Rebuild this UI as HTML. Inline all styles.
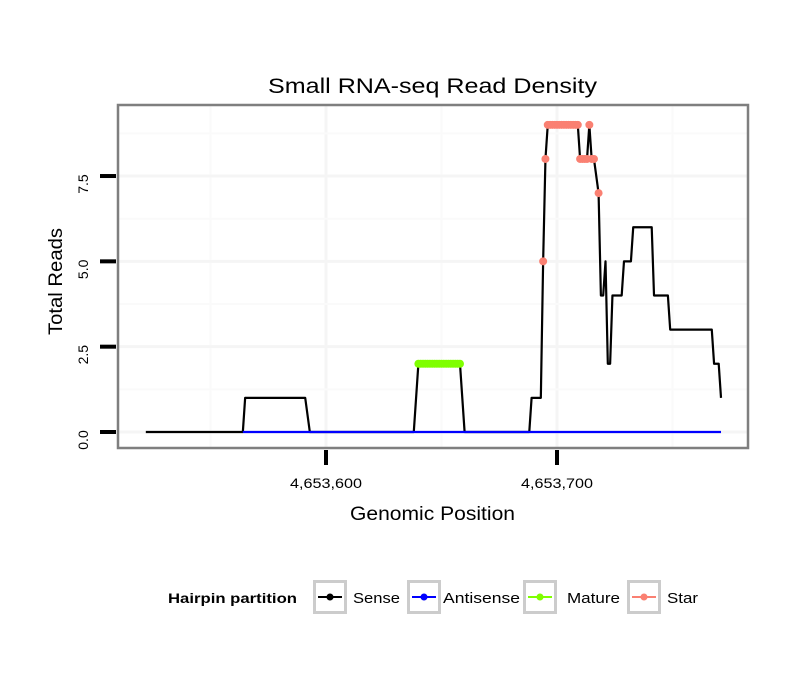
<!DOCTYPE html>
<html><head><meta charset="utf-8"><style>
body{margin:0;background:#fff;}
svg text{font-family:"Liberation Sans",sans-serif;}
</style></head><body>
<svg id="chart" width="810" height="690" xmlns="http://www.w3.org/2000/svg">
<rect width="810" height="690" fill="#fff"/>
<text x="268" y="93" font-size="21" textLength="329" lengthAdjust="spacingAndGlyphs">Small RNA-seq Read Density</text>
<g id="grid"></g>
<g id="marks"></g>
<rect x="118" y="105" width="630" height="343" fill="none" stroke="#7f7f7f" stroke-width="2.5"/>
<g id="axes"></g>
<text x="350" y="520" font-size="19" textLength="165" lengthAdjust="spacingAndGlyphs">Genomic Position</text>
<text transform="translate(62,335) rotate(-90)" font-size="19" textLength="107" lengthAdjust="spacingAndGlyphs">Total Reads</text>
<g>
<text x="168" y="603" font-size="14" font-weight="bold" textLength="129" lengthAdjust="spacingAndGlyphs">Hairpin partition</text>
<g id="legend-items"></g>
</g>
</svg>
<script>
const xTicks=[4653600,4653700];
const xTickLabels=["4,653,600","4,653,700"];
const yTicks=[0,2.5,5,7.5];
const yTickLabels=["0.0","2.5","5.0","7.5"];
const sensePos=[4653522,4653564,4653565,4653591,4653593,4653638,4653640,4653658,4653660,4653688,4653689,4653693,4653694,4653695,4653696,4653709,4653710,4653713,4653714,4653715,4653716,4653718,4653719,4653720,4653721,4653722,4653723,4653724,4653728,4653729,4653732,4653733,4653741,4653742,4653748,4653749,4653767,4653768,4653770,4653771];
const senseVals=[0,0,1,1,0,0,2,2,0,0,1,1,5,8,9,9,8,8,9,8,8,7,4,4,5,2,2,4,4,5,5,6,6,4,4,3,3,2,2,1];
const antisensePos=[4653564,4653771];
const antisenseVals=[0,0];
const maturePos=[4653640,4653641,4653642,4653643,4653644,4653645,4653646,4653647,4653648,4653649,4653650,4653651,4653652,4653653,4653654,4653655,4653656,4653657,4653658];
const matureVals=[2,2,2,2,2,2,2,2,2,2,2,2,2,2,2,2,2,2,2];
const starPos=[4653694,4653695,4653696,4653697,4653698,4653699,4653700,4653701,4653702,4653703,4653704,4653705,4653706,4653707,4653708,4653709,4653710,4653711,4653712,4653713,4653714,4653715,4653716,4653718];
const starVals=[5,8,9,9,9,9,9,9,9,9,9,9,9,9,9,9,8,8,8,8,9,8,8,7];
const legendLabels=["Sense","Antisense","Mature","Star"];
const legendColors=["#000000","#0000ff","#7fff00","#fa8072"];

const NS="http://www.w3.org/2000/svg";
const X=v=>326+(v-4653600)*2.31;
const Y=v=>432-v*34.13;
function mk(tag,attrs,parent){const e=document.createElementNS(NS,tag);for(const k in attrs)e.setAttribute(k,attrs[k]);parent.appendChild(e);return e;}
const grid=document.getElementById('grid'),marks=document.getElementById('marks'),axes=document.getElementById('axes');
[4653550,4653650,4653750].forEach(v=>{const l=mk('line',{x1:X(v),x2:X(v),y1:105,y2:448,stroke:'#fafafa','stroke-width':2},grid);});
xTicks.forEach(v=>{const l=mk('line',{x1:X(v),x2:X(v),y1:105,y2:448,stroke:'#f5f5f5','stroke-width':3},grid);});
[1.25,3.75,6.25,8.75].forEach(v=>{const l=mk('line',{x1:118,x2:748,y1:Y(v),y2:Y(v),stroke:'#fafafa','stroke-width':2},grid);});
yTicks.forEach(v=>{const l=mk('line',{x1:118,x2:748,y1:Y(v),y2:Y(v),stroke:'#f5f5f5','stroke-width':3},grid);});
xTicks.forEach((v,i)=>{
 const t=mk('line',{x1:X(v),x2:X(v),y1:450,y2:465,stroke:'#000','stroke-width':4},axes);
 
 const tx=mk('text',{x:X(v)-36,y:488,'font-size':14,textLength:72,lengthAdjust:'spacingAndGlyphs'},axes);tx.textContent=xTickLabels[i];
 
});
yTicks.forEach((v,i)=>{
 const t=mk('line',{x1:100,x2:116,y1:Y(v),y2:Y(v),stroke:'#000','stroke-width':4},axes);
 
 const tx=mk('text',{transform:`translate(88,${Y(v)+8}) rotate(-90)`,'font-size':14,'text-anchor':'middle'},axes);tx.textContent=yTickLabels[i];
 
});
function line(pos,vals,color,name){
 const d=pos.map((p,i)=>(i?'L':'M')+X(p)+','+Y(vals[i])).join('');
 const p=mk('path',{d:d,fill:'none',stroke:color,'stroke-width':2.2,'stroke-linejoin':'round'},marks);
 
}
function pts(pos,vals,color,name){
 pos.forEach((p,i)=>{const c=mk('circle',{cx:X(p),cy:Y(vals[i]),r:4,fill:color},marks);
 });
}
line(sensePos,senseVals,'#000','sense-line');
line(antisensePos,antisenseVals,'#0000ff','antisense-line');
pts(maturePos,matureVals,'#7fff00','mature-point');
pts(starPos,starVals,'#fa8072','star-point');
const li=document.getElementById('legend-items');
const bx=[313,407,523,627];
const tx=[353,443,567,667];
const tw=[47,77,53,31];
legendLabels.forEach((lab,i)=>{
 const r=mk('rect',{x:bx[i]+1.5,y:581.5,width:31,height:31,fill:'#fff',stroke:'#cccccc','stroke-width':3},li);
 
 const l=mk('line',{x1:bx[i]+5,x2:bx[i]+29,y1:597,y2:597,stroke:legendColors[i],'stroke-width':2},li);
 
 const c=mk('circle',{cx:bx[i]+17,cy:597,r:3.5,fill:legendColors[i]},li);
 
 const t=mk('text',{x:tx[i],y:603,'font-size':15,textLength:tw[i],lengthAdjust:'spacingAndGlyphs'},li);t.textContent=lab;
 
});
</script>
</body></html>
